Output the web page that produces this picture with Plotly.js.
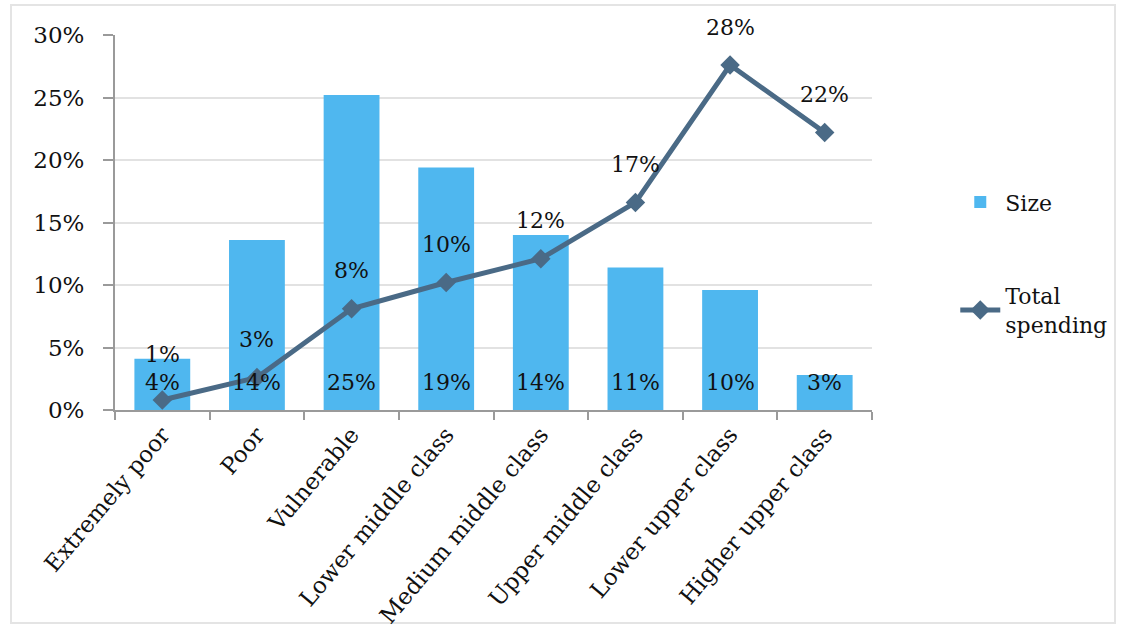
<!DOCTYPE html>
<html>
<head>
<meta charset="utf-8">
<script src="https://cdn.plot.ly/plotly-3.0.1.min.js"></script>
<style>
html,body{margin:0;padding:0;background:#fff;}
#frame{position:absolute;left:10px;top:4px;width:1106px;height:620px;border:2px solid #e4e4e4;box-sizing:border-box;}
#chart{position:absolute;left:0;top:0;width:1124px;height:630px;}
</style>
</head>
<body>
<div id="frame"></div>
<div id="chart"></div>
<script>
const categories = ["Extremely poor","Poor","Vulnerable","Lower middle class","Medium middle class","Upper middle class","Lower upper class","Higher upper class"];
const sizeValues = [4.1, 13.6, 25.2, 19.4, 14.0, 11.4, 9.6, 2.8];
const spendingValues = [0.8, 2.6, 8.1, 10.2, 12.1, 16.6, 27.6, 22.2];
const yTickVals = [0, 5, 10, 15, 20, 25, 30];
const yTickText = ["0%","5%","10%","15%","20%","25%","30%"];

const FONT = "DejaVu Serif, serif";
const barColor = "#4fb7ef";
const lineColor = "#4a6a86";

const traces = [
  {
    type: "bar", name: "Size", x: categories, y: sizeValues, legendgroup: "a",
    marker: {color: barColor}, hoverinfo: "skip"
  },
  {
    type: "scatter", mode: "lines+markers", name: "Total<br>spending", legendgroup: "b",
    x: categories, y: spendingValues,
    line: {color: lineColor, width: 5},
    marker: {symbol: "diamond", size: 15, color: lineColor}
  }
];

const annotations = [];
categories.forEach((c, i) => {
  annotations.push({x: c, y: 0, xref: "x", yref: "y", text: Math.round(sizeValues[i]) + "%",
    showarrow: false, yshift: 28, font: {family: FONT, size: 22, color: "#111"}});
  annotations.push({x: c, y: spendingValues[i], xref: "x", yref: "y", text: Math.round(spendingValues[i]) + "%",
    showarrow: false, yshift: (i === 0 ? 46 : 38), font: {family: FONT, size: 22, color: "#111"}});
});

const layout = {
  width: 1124, height: 630,
  margin: {l: 115, r: 249, t: 35, b: 220},
  paper_bgcolor: "rgba(0,0,0,0)", plot_bgcolor: "rgba(0,0,0,0)",
  font: {family: FONT, size: 22, color: "#111"},
  bargap: 0.41,
  showlegend: true,
  legend: {x: 1.11, y: 0.61, xanchor: "left", yanchor: "top", tracegroupgap: 62, itemwidth: 40,
    font: {family: FONT, size: 22, color: "#111"}, bgcolor: "rgba(0,0,0,0)"},
  xaxis: {
    type: "category", tickangle: -50, showline: true, linecolor: "#9a9a9a", linewidth: 2,
    ticks: "outside", ticklen: 8, tickwidth: 2, tickcolor: "#9a9a9a", tickson: "boundaries",
    showgrid: false, tickfont: {family: FONT, size: 23, color: "#111"}, fixedrange: true
  },
  yaxis: {
    range: [0, 30], tickvals: yTickVals, ticktext: yTickText,
    showline: true, linecolor: "#9a9a9a", linewidth: 2,
    ticks: "outside", ticklen: 10, tickwidth: 2, tickcolor: "#9a9a9a", ticklabelstandoff: 14,
    showgrid: true, gridcolor: "#e2e2e2", gridwidth: 2, zeroline: false,
    tickfont: {family: FONT, size: 23, color: "#111"}, fixedrange: true
  },
  annotations: annotations
};

Plotly.newPlot("chart", traces, layout, {displayModeBar: false, staticPlot: true});
</script>
</body>
</html>
